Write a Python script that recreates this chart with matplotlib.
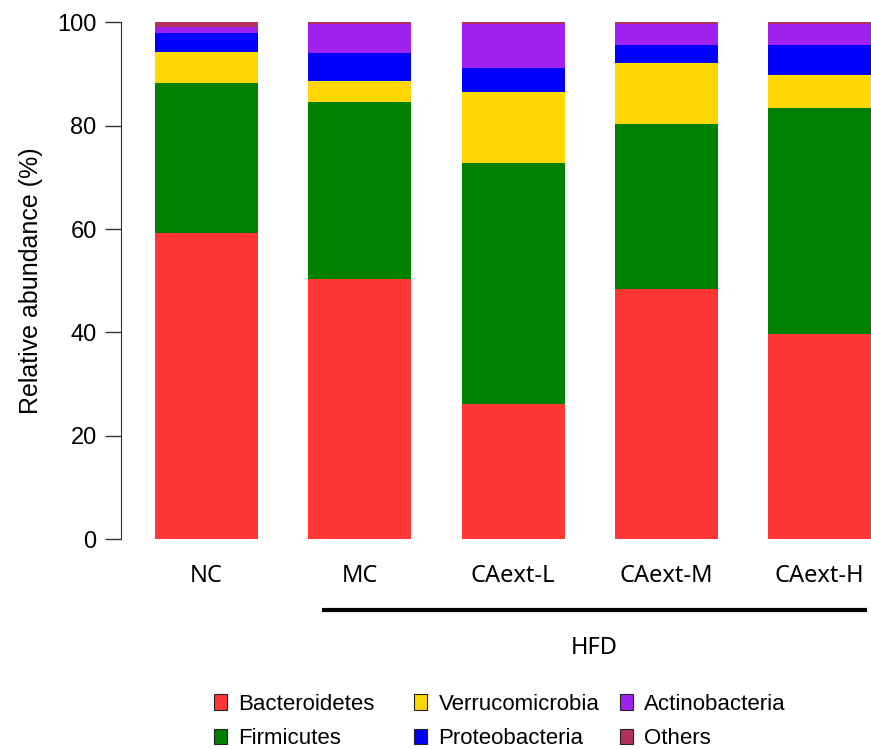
import numpy as np
import matplotlib
matplotlib.use("Agg")
import matplotlib.pyplot as plt
from matplotlib.patches import Patch

# Relative abundance (%) of each phylum per group
groups = ["NC", "MC", "CAext-L", "CAext-M", "CAext-H"]
bacteroidetes = [59.2, 50.3, 26.2, 48.4, 39.8]
firmicutes = [29.1, 34.2, 46.6, 31.9, 43.6]
verrucomicrobia = [6.0, 4.1, 13.8, 11.8, 6.5]
proteobacteria = [3.6, 5.5, 4.6, 3.5, 5.7]
actinobacteria = [1.1, 5.6, 8.5, 4.1, 4.1]
others = [1.0, 0.3, 0.3, 0.3, 0.3]

phyla = ["Bacteroidetes", "Firmicutes", "Verrucomicrobia",
         "Proteobacteria", "Actinobacteria", "Others"]
colors = ["#FF3636", "#008000", "#FFD700", "#0000FF", "#A020F0", "#B03060"]

series = [bacteroidetes, firmicutes, verrucomicrobia,
          proteobacteria, actinobacteria, others]

fig = plt.figure(figsize=(8.71, 7.49), dpi=100)
# axes placed in pixel terms: left spine at x=121, y 0..100 -> 539..22
ax = fig.add_axes([121 / 871, (749 - 539.3) / 749, 750 / 871, 517 / 749])

x = np.arange(len(groups))
bottom = np.zeros(len(groups))
for vals, col, name in zip(series, colors, phyla):
    ax.bar(x, vals, width=0.672, bottom=bottom, color=col, label=name,
           edgecolor="none")
    bottom += np.array(vals)

ax.set_xlim(-0.558, 4.336)
ax.set_ylim(0, 100)
ax.set_yticks([0, 20, 40, 60, 80, 100])
ax.spines["top"].set_visible(False)
ax.spines["right"].set_visible(False)
ax.spines["bottom"].set_visible(False)
ax.spines["left"].set_bounds(0, 100)
ax.spines["left"].set_color("#333333")
ax.tick_params(axis="y", length=11.5, width=1, color="#333333", pad=6,
               labelsize=17)
for t in ax.get_yticklabels():
    t.set_family("Liberation Sans")

lab_font = ["Noto Sans", "DejaVu Sans"]
ax.set_xticks(x)
ax.set_xticklabels(groups, family=lab_font, fontsize=17)
ax.tick_params(axis="x", length=0, pad=18)

ax.set_ylabel("Relative abundance (%)", family="Liberation Sans",
              fontsize=18, labelpad=10)

# HFD bracket line under the treated groups
ax.plot([0.752, 4.308], [-0.137, -0.137], color="black", lw=3,
        transform=ax.get_xaxis_transform(), clip_on=False,
        solid_capstyle="butt")
ax.text(2.53, -0.21, "HFD", transform=ax.get_xaxis_transform(),
        ha="center", va="center", fontsize=17, family=lab_font)

# legend: three columns placed like the R layout
col_left = [214 / 871, 414 / 871, 620 / 871]
for i in range(3):
    handles = [Patch(facecolor=colors[2 * i + k], edgecolor="#222222",
                     linewidth=0.8) for k in range(2)]
    fig.legend(handles, phyla[2 * i:2 * i + 2], loc="upper left",
               bbox_to_anchor=(col_left[i], (749 - 694) / 749),
               frameon=False, borderpad=0, borderaxespad=0,
               handlelength=0.6, handleheight=0.72, handletextpad=0.5,
               labelspacing=0.6, prop={"family": "Liberation Sans",
                                       "size": 16})

fig.savefig("out.png", dpi=100)
